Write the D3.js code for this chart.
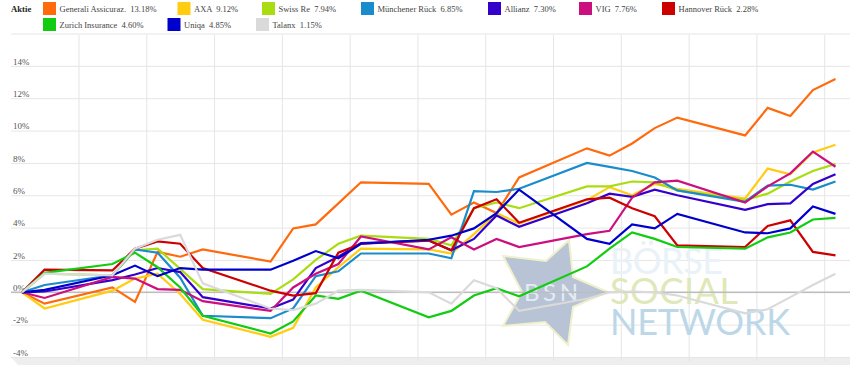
<!DOCTYPE html>
<html>
<head>
<meta charset="utf-8">
<script src="https://cdn.jsdelivr.net/npm/d3@7"></script>
<style>
  body { margin: 0; background: #fff; }
  text { font-family: "Liberation Serif", serif; }
</style>
</head>
<body>
<div id="chart"></div>
<script>
// trading days counted from the start, weekends left out
const days = [0, 1, 4, 5, 6, 7, 8, 11, 12, 13, 14, 15, 18, 19, 20, 21, 22, 25, 26, 27, 28, 29, 32, 33, 34, 35, 36];

const generali = [0, -0.7, 0.3, -0.6, 2.5, 2.2, 2.65, 1.9, 3.95, 4.2, 5.5, 6.8, 6.7, 4.8, 5.55, 4.9, 7.1, 8.9, 8.45, 9.2, 10.15, 10.8, 9.7, 11.4, 10.9, 12.5, 13.18];
const axa = [0, -1.0, 0.1, 0.85, 1.15, -0.1, -1.7, -2.75, -2.2, 0.3, 1.55, 2.7, 2.65, 2.4, 3.6, 4.9, 4.25, 5.7, 6.5, 6.0, 6.7, 6.4, 5.8, 7.65, 7.3, 8.65, 9.12];
const swissRe = [0, 1.15, 1.05, 2.6, 2.7, 1.45, 0.2, -0.1, 0.8, 2.0, 3.0, 3.5, 3.3, 2.9, 5.2, 5.55, 5.2, 6.55, 6.55, 6.85, 6.8, 6.3, 5.7, 6.1, 6.85, 7.5, 7.94];
const muenchener = [0, 0.45, 1.05, 2.65, 2.45, 0.9, -1.45, -1.6, -1.0, 1.0, 1.3, 2.4, 2.4, 2.1, 6.25, 6.2, 6.4, 8.0, 7.75, 7.5, 7.1, 6.3, 5.6, 6.6, 6.65, 6.35, 6.85];
const allianz = [0, 0.05, 0.75, 1.1, 1.5, 1.25, -0.3, -1.0, -0.45, 1.5, 2.2, 3.05, 3.2, 2.6, 3.3, 4.75, 4.05, 5.5, 6.1, 5.9, 6.35, 6.0, 5.1, 5.45, 5.5, 6.7, 7.3];
const vig = [0, -0.35, 0.95, 0.85, 0.2, 0.15, -0.55, -1.15, 0.3, 1.15, 1.75, 3.45, 2.65, 3.4, 2.65, 3.3, 2.8, 3.6, 3.8, 5.85, 6.8, 6.9, 5.55, 6.55, 7.35, 8.7, 7.76];
const hannover = [0, 1.4, 1.35, 2.7, 3.15, 3.0, 1.5, 0.1, -0.2, -0.05, 2.45, 3.0, 3.2, 2.6, 5.2, 5.75, 4.3, 5.75, 5.85, 5.2, 4.7, 2.9, 2.8, 4.1, 4.45, 2.5, 2.28];
const zurich = [0, 1.2, 1.75, 2.45, 1.55, 0.3, -1.45, -2.55, -1.8, -0.2, -0.4, 0.1, -1.55, -1.15, -0.2, 0.25, -0.25, 1.6, 2.7, 3.7, 3.3, 2.8, 2.7, 3.4, 3.7, 4.5, 4.6];
const uniqa = [0, 0.15, 1.05, 1.65, 1.0, 1.5, 1.4, 1.4, 1.95, 2.55, 2.1, 3.0, 3.25, 3.5, 3.95, 4.9, 6.35, 3.3, 3.0, 4.2, 3.95, 4.85, 3.7, 3.65, 3.95, 5.3, 4.85];
const talanx = [0, 1.15, 1.05, 2.7, 3.25, 3.55, 0.55, -1.0, -1.1, -0.7, 0.1, 0.15, 0.0, -0.7, 0.75, 0.25, -1.15, -0.4, 0.0, 0.05, 0.0, -0.2, -1.3, -1.05, -0.3, 0.45, 1.15];

const names = ["Generali Assicuraz.", "AXA", "Swiss Re", "Münchener Rück", "Allianz", "VIG", "Hannover Rück", "Zurich Insurance", "Uniqa", "Talanx"];
const lastValues = ["13.18%", "9.12%", "7.94%", "6.85%", "7.30%", "7.76%", "2.28%", "4.60%", "4.85%", "1.15%"];
const allValues = [generali, axa, swissRe, muenchener, allianz, vig, hannover, zurich, uniqa, talanx];
const colors = ["#ff6a0d", "#ffcc11", "#aadd11", "#1a8ccc", "#3300cc", "#cc0f7f", "#cc0000", "#11cc11", "#0000cc", "#dadada"];

const yTicks = [-4, -2, 0, 2, 4, 6, 8, 10, 12, 14, 16];
const xGrid = [2.5, 5.5, 8.5, 11.5, 14.5, 17.5, 20.5, 23.5, 26.5, 29.5, 32.5, 35.5];

const width = 850;
const height = 365;

const svg = d3.select("#chart")
  .append("svg")
  .attr("width", width)
  .attr("height", height);

const x = d3.scaleLinear().domain([0, 36]).range([22, 835.5]);
const y = d3.scaleLinear().domain([-4, 16]).range([357, 33.5]);

// grey band under the plot
svg.append("path")
  .attr("d", `M11,${y(-4)}H${width}V${height}H18Z`)
  .attr("fill", "#eeeeee");

// vertical grid
const xAxis = svg.append("g")
  .attr("transform", `translate(0,${y(-4) + 4})`)
  .call(d3.axisBottom(x).tickValues(xGrid).tickSize(-(y(-4) + 4 - y(16))).tickFormat(""));
xAxis.select(".domain").remove();
xAxis.selectAll("line").attr("stroke", "#e4e4ea");

// horizontal grid with labels sitting on top of the lines
const yAxis = svg.append("g")
  .attr("transform", `translate(${width},0)`)
  .call(d3.axisLeft(y).tickValues(yTicks).tickSize(width - 11).tickFormat(d => d === 16 ? "" : d + "%"));
yAxis.select(".domain").remove();
yAxis.selectAll("line")
  .attr("stroke", d => d === 16 ? "#f2f2f2" : "#e6e6e6")
  .attr("stroke-width", d => d === 16 ? 2 : 1);
yAxis.selectAll("text")
  .attr("x", 13 - width)
  .attr("dy", "-0.2em")
  .attr("text-anchor", "start")
  .attr("fill", "#555")
  .style("font-family", '"Liberation Serif", serif')
  .style("font-size", "9px");

// watermark
const wm = svg.append("g");
wm.append("polygon")
  .attr("points", "503,256 546,261 569,240 573,277 608,292 573,307 568,345 545,322 503,326 522,292")
  .attr("fill", "#b9c3d6")
  .attr("stroke", "#eff1cc")
  .attr("stroke-width", 2);
wm.append("text").text("BSN")
  .attr("x", 524).attr("y", 301).attr("textLength", 54)
  .attr("fill", "#e4ebf3")
  .style("font-family", "Lato, sans-serif").style("font-size", "24px");
[["BÖRSE", 274, 113, "#e9f2f8"], ["SOCIAL", 304, 128, "#dfe8b8"], ["NETWORK", 335, 180, "#bcd8e8"]].forEach(t => {
  wm.append("text").text(t[0])
    .attr("x", 610).attr("y", t[1]).attr("textLength", t[2])
    .attr("fill", t[3])
    .style("font-family", "Lato, sans-serif").style("font-size", "36px");
});

// zero line sits above the watermark
svg.append("line")
  .attr("x1", 11).attr("x2", width)
  .attr("y1", y(0)).attr("y2", y(0))
  .attr("stroke", "#bdbdbd")
  .attr("stroke-width", 1.5);

const lineGenerator = d3.line()
  .x((d, i) => x(days[i]))
  .y(d => y(d));

svg.append("g")
  .selectAll("path")
  .data(allValues)
  .join("path")
  .attr("d", lineGenerator)
  .attr("fill", "none")
  .attr("stroke", (d, i) => colors[i])
  .attr("stroke-width", 2.2)
  .attr("stroke-linejoin", "miter");

// legend, laid out by hand like the original html table
const legendX = [43, 177.5, 262, 361, 488, 579, 662, 43, 167.5, 256];
const legend = svg.append("g");

legend.append("text")
  .text("Aktie")
  .attr("x", 11).attr("y", 12)
  .attr("font-weight", "bold")
  .attr("fill", "#222")
  .style("font-size", "8.7px");

names.forEach((name, i) => {
  const rowY = i < 7 ? 2 : 18;
  legend.append("rect")
    .attr("x", legendX[i]).attr("y", rowY)
    .attr("width", 13).attr("height", 13)
    .attr("fill", colors[i]);
  legend.append("text")
    .attr("x", legendX[i] + 16.5).attr("y", rowY + 10)
    .attr("fill", "#444")
    .attr("xml:space", "preserve")
    .style("white-space", "pre")
    .style("font-size", "8.5px")
    .text(name + "  " + lastValues[i]);
});
</script>
</body>
</html>
